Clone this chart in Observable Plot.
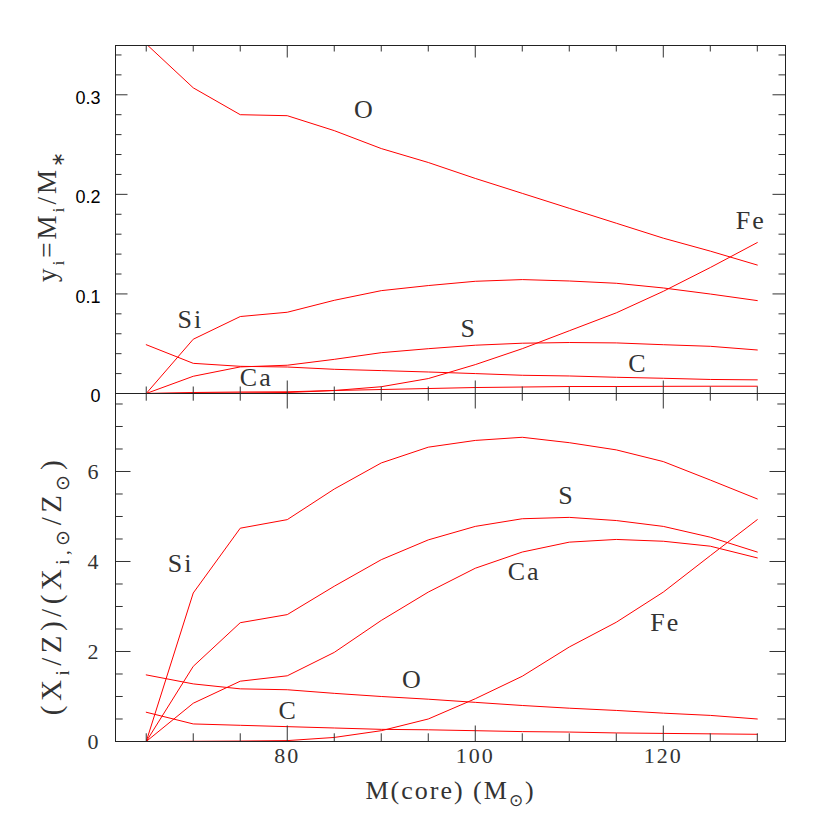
<!DOCTYPE html>
<html><head><meta charset="utf-8">
<script src="https://cdn.jsdelivr.net/npm/d3@7"></script>
<script src="https://cdn.jsdelivr.net/npm/@observablehq/plot@0.6"></script>
<style>
body{margin:0;background:#fff}
#chart{position:relative;width:830px;height:830px}
#chart svg{position:absolute;left:0;overflow:visible;background:transparent}
</style></head><body><div id="chart"></div>
<script>
// ---- data ----
const mass = [65,70,75,80,85,90,95,100,105,110,115,120,125,130];
const elements = ["O","Si","S","C","Fe","Ca"];
// top panel: y_i = M_i / M_*
const yO  = [0.351,0.307,0.280,0.279,0.264,0.246,0.232,0.216,0.201,0.186,0.171,0.156,0.143,0.129];
const ySi = [0,0.0545,0.0773,0.0816,0.0936,0.1033,0.1084,0.1127,0.1144,0.1130,0.1107,0.1060,0.0999,0.0933];
const yS  = [0,0.0173,0.0267,0.0284,0.0343,0.0410,0.0450,0.0485,0.0505,0.0512,0.0508,0.0490,0.0474,0.0437];
const yC  = [0.049,0.0303,0.0273,0.0266,0.0243,0.0230,0.0216,0.0200,0.0183,0.0176,0.0163,0.0153,0.0141,0.0137];
const yFe = [0,0.0003,0.0005,0.0010,0.0030,0.0068,0.0150,0.0290,0.0450,0.0630,0.0810,0.1026,0.1265,0.1516];
const yCa = [0,0.0010,0.0015,0.0017,0.0030,0.0040,0.0050,0.0060,0.0065,0.0070,0.0070,0.0072,0.0073,0.0073];
// bottom panel: (X_i/Z)/(X_i,sun/Z_sun)
const rO  = [1.48,1.28,1.17,1.15,1.07,1.00,0.94,0.87,0.80,0.74,0.69,0.63,0.58,0.50];
const rSi = [0,3.30,4.74,4.93,5.61,6.19,6.54,6.69,6.76,6.64,6.48,6.22,5.81,5.39];
const rS  = [0,1.67,2.64,2.82,3.45,4.04,4.48,4.78,4.95,4.98,4.91,4.78,4.54,4.21];
const rC  = [0.65,0.39,0.36,0.33,0.30,0.27,0.26,0.24,0.22,0.21,0.19,0.18,0.17,0.16];
const rFe = [0,0.005,0.01,0.02,0.09,0.24,0.50,0.95,1.45,2.10,2.65,3.32,4.13,4.93];
const rCa = [0,0.85,1.34,1.46,1.98,2.69,3.32,3.85,4.21,4.43,4.49,4.45,4.34,4.08];
// ticks
const xDomain = [61.73,133.0];
const xMajorTicks = [80,100,120];
const xMinorTicks = [65,70,75,85,90,95,105,110,115,125,130];
const topDomain = [0,0.3495];
const topMajorTicks = [0,0.1,0.2,0.3];
const topMinorTicks = [0.02,0.04,0.06,0.08,0.12,0.14,0.16,0.18,0.22,0.24,0.26,0.28,0.32,0.34];
const botDomain = [0,7.733];
const botMajorTicks = [0,2,4,6];
const botMinorTicks = [0.5,1,1.5,2.5,3,3.5,4.5,5,5.5,6.5,7,7.5];
// curve labels
const topLabelText = ["O","Fe","Si","S","C","Ca"];
const topLabelX = [88.2,129.3,69.7,99.3,117.3,76.7];
const topLabelY = [0.285,0.174,0.0745,0.0655,0.0304,0.0159];
const botLabelText = ["Si","S","Ca","Fe","O","C"];
const botLabelX = [68.65,109.7,105.2,120.2,93.3,80.1];
const botLabelY = [3.96,5.47,3.78,2.64,1.38,0.69];
const xTitle = "M(core) (M_{⊙})";
const topTitle = "y_{i}=M_{i}/M_{∗}";
const botTitle = "(X_{i}/Z)/(X_{i,⊙}/Z_{⊙})";

// ---- build ----
const W = 830, ML = 115, MR = 45, FW = W - ML - MR;
const SERIF = "Liberation Serif";
const INK = "#333";
const topSeries = [yO,ySi,yS,yC,yFe,yCa];
const botSeries = [rO,rSi,rS,rC,rFe,rCa];
const toRows = (series) => elements.flatMap((el,k) => mass.map((m,i) => ({m, v: series[k][i], el})));
const toLabels = (t,x,y) => t.map((s,i) => ({s, x: x[i], y: y[i]}));

function panel({height, mt, mb, domain, series, major, minor, majLen, minLen, labels, tickFmt, tickFont, tickSize, tickColor, tickDy, extra}) {
  const FH = height - mt - mb;
  const tc = "#333";
  return Plot.plot({
    width: W, height, marginLeft: ML, marginRight: MR, marginTop: mt, marginBottom: mb,
    style: {background: "transparent", overflow: "visible"},
    x: {domain: xDomain, axis: null},
    y: {domain, axis: null},
    marks: [
      Plot.line(toRows(series), {x: "m", y: "v", z: "el", stroke: "#ff0000", strokeWidth: 1, clip: true}),
      Plot.tickY(major, {y: d => d, insetRight: FW - majLen, stroke: tc}),
      Plot.tickY(minor, {y: d => d, insetRight: FW - minLen, stroke: tc}),
      Plot.tickY(major, {y: d => d, insetLeft: FW - majLen, stroke: tc}),
      Plot.tickY(minor, {y: d => d, insetLeft: FW - minLen, stroke: tc}),
      Plot.tickX(xMajorTicks, {x: d => d, insetBottom: FH - majLen, stroke: tc}),
      Plot.tickX(xMinorTicks, {x: d => d, insetBottom: FH - minLen, stroke: tc}),
      Plot.tickX(xMajorTicks, {x: d => d, insetTop: FH - majLen, stroke: tc}),
      Plot.tickX(xMinorTicks, {x: d => d, insetTop: FH - minLen, stroke: tc}),
      Plot.frame({stroke: "#222", strokeWidth: 1}),
      Plot.text(major, {y: d => d, frameAnchor: "left", dx: -15, dy: tickDy, textAnchor: "end",
        text: tickFmt, fontFamily: tickFont, fontSize: tickSize, fill: tickColor}),
      Plot.text(labels, {x: "x", y: "y", text: "s", fontFamily: SERIF, fontSize: 26, fill: INK}),
      ...extra
    ]
  });
}

const topPlot = panel({
  height: 400, mt: 45, mb: 7, domain: topDomain, series: topSeries,
  major: topMajorTicks, minor: topMinorTicks, majLen: 12.5, minLen: 6.5,
  labels: toLabels(topLabelText, topLabelX, topLabelY),
  tickFmt: d => d === 0 ? "0" : d.toFixed(1), tickFont: "Liberation Sans", tickSize: 18, tickColor: "#000", tickDy: 3,
  extra: [
    Plot.text([topTitle], {text: d => d, frameAnchor: "left", textAnchor: "middle", dx: -68, dy: -4, rotate: -90,
      fontFamily: SERIF, fontSize: 27, fill: INK})
  ]
});

const botPlot = panel({
  height: 444, mt: 7, mb: 89, domain: botDomain, series: botSeries,
  major: botMajorTicks, minor: botMinorTicks, majLen: 15.5, minLen: 7.7,
  labels: toLabels(botLabelText, botLabelX, botLabelY),
  tickFmt: d => String(d), tickFont: SERIF, tickSize: 22, tickColor: INK, tickDy: 0,
  extra: [
    Plot.text(xMajorTicks, {x: d => d, text: d => String(d), frameAnchor: "bottom", dy: 21,
      fontFamily: SERIF, fontSize: 22, fill: INK}),
    Plot.text([xTitle], {text: d => d, frameAnchor: "bottom", textAnchor: "middle", dy: 57,
      fontFamily: SERIF, fontSize: 26, fill: INK}),
    Plot.text([botTitle], {text: d => d, frameAnchor: "left", textAnchor: "middle", dx: -64, dy: 18, rotate: -90,
      fontFamily: SERIF, fontSize: 29, fill: INK})
  ]
});

const chart = document.getElementById("chart");
topPlot.style.top = "0px";
botPlot.style.top = "386px";
chart.append(topPlot, botPlot);

function richText(svg) {
  d3.select(svg).selectAll(`g[font-family="${SERIF}"]`).attr("letter-spacing", "2px");
  d3.select(svg).selectAll("text").each(function() {
    const s = this.textContent;
    if (!s.includes("_{")) return;
    const fs = parseFloat(getComputedStyle(this).fontSize) || 26;
    const parts = [];
    const re = /_\{([^}]*)\}/g; let last = 0, m;
    while ((m = re.exec(s))) {
      if (m.index > last) parts.push([s.slice(last, m.index), false]);
      parts.push([m[1], true]);
      last = re.lastIndex;
    }
    if (last < s.length) parts.push([s.slice(last), false]);
    this.textContent = "";
    const sh = 0.3 * fs;
    let prevSub = false;
    for (const [t, sub] of parts) {
      const ts = document.createElementNS("http://www.w3.org/2000/svg", "tspan");
      ts.textContent = t;
      if (sub) { ts.setAttribute("font-size", (0.65 * fs) + "px"); if (!prevSub) ts.setAttribute("dy", sh); }
      else if (prevSub) ts.setAttribute("dy", -sh);
      this.appendChild(ts);
      prevSub = sub;
    }
    if (s === botTitle) this.setAttribute("letter-spacing", "4.5px");
    if (s === topTitle) this.setAttribute("letter-spacing", "3px");
  });
}
richText(topPlot);
richText(botPlot);
</script></body></html>
